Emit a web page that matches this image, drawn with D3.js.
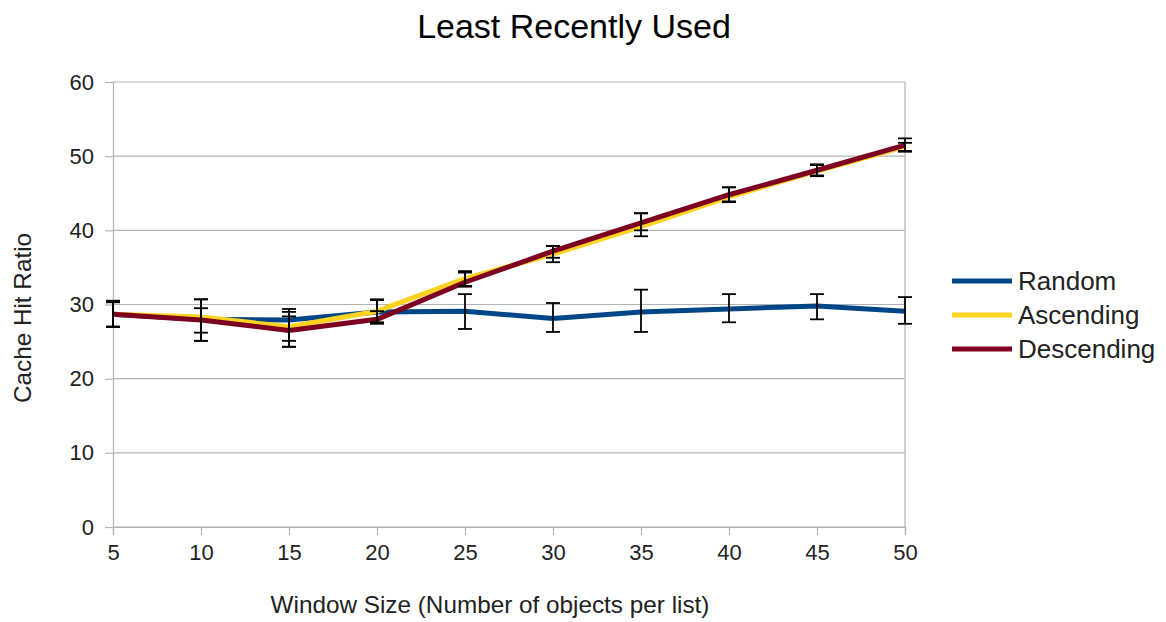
<!DOCTYPE html>
<html>
<head>
<meta charset="utf-8">
<script src="https://cdn.jsdelivr.net/npm/d3@7"></script>
<style>
  html, body { margin: 0; padding: 0; background: #fff; }
  text { font-family: "Liberation Sans", Arial, sans-serif; }
</style>
</head>
<body>
<svg id="chart" width="1166" height="622"></svg>
<script>
const xValues = [5, 10, 15, 20, 25, 30, 35, 40, 45, 50];
const yTicks = [0, 10, 20, 30, 40, 50, 60];
const seriesNames = ["Random", "Ascending", "Descending"];
const seriesColors = ["#004586", "#ffd320", "#7e0021"];

const randomValues = [28.7, 28.0, 27.9, 29.0, 29.1, 28.1, 29.0, 29.4, 29.8, 29.1];
const randomLow    = [27.0, 25.1, 25.1, 27.5, 26.7, 26.3, 26.3, 27.6, 28.0, 27.4];
const randomHigh   = [30.5, 30.7, 29.4, 30.7, 31.4, 30.2, 32.0, 31.4, 31.4, 31.0];

const ascendingValues = [28.7, 28.3, 27.0, 29.1, 33.5, 36.8, 40.5, 44.5, 48.0, 51.3];
const ascendingLow    = [27.0, 25.1, 24.3, 27.6, 32.5, 35.7, 39.2, 43.8, 47.3, 50.6];
const ascendingHigh   = [30.3, 30.7, 29.0, 30.6, 34.5, 37.9, 42.3, 45.8, 48.8, 52.4];

const descendingValues = [28.7, 27.9, 26.5, 28.0, 33.0, 37.2, 41.0, 44.8, 48.1, 51.5];
const descendingLow    = [27.0, 26.2, 24.3, 27.4, 32.4, 36.3, 40.0, 43.9, 47.4, 50.7];
const descendingHigh   = [30.5, 29.5, 28.4, 29.1, 34.3, 37.9, 42.3, 45.8, 48.9, 51.8];

const series = [
  { name: seriesNames[0], color: seriesColors[0], values: randomValues, low: randomLow, high: randomHigh },
  { name: seriesNames[1], color: seriesColors[1], values: ascendingValues, low: ascendingLow, high: ascendingHigh },
  { name: seriesNames[2], color: seriesColors[2], values: descendingValues, low: descendingLow, high: descendingHigh }
];

const svg = d3.select("#chart");
const plotLeft = 113, plotRight = 905, plotTop = 82, plotBottom = 527;

const x = d3.scaleLinear().domain([5, 50]).range([plotLeft, plotRight]);
const y = d3.scaleLinear().domain([0, 60]).range([plotBottom, plotTop]);

// Gridlines
svg.append("g").selectAll("line").data(yTicks).join("line")
  .attr("x1", plotLeft).attr("x2", plotRight)
  .attr("y1", d => y(d)).attr("y2", d => y(d))
  .attr("stroke", "#b3b3b3").attr("stroke-width", 1.2);

// Y axis
const yAxis = svg.append("g").attr("transform", `translate(${plotLeft},0)`)
  .call(d3.axisLeft(y).tickValues(yTicks).tickSize(8).tickPadding(11).tickFormat(d3.format("d")));
yAxis.select(".domain").attr("stroke", "#b3b3b3").attr("stroke-width", 1.2);
yAxis.selectAll(".tick line").attr("stroke", "#b3b3b3").attr("stroke-width", 1.2);
yAxis.selectAll("text").attr("font-size", 22).attr("fill", "#222")
  .attr("font-family", "'Liberation Sans', Arial, sans-serif");

// X axis
const xAxis = svg.append("g").attr("transform", `translate(0,${plotBottom})`)
  .call(d3.axisBottom(x).tickValues(xValues).tickSize(8).tickPadding(9).tickFormat(d3.format("d")));
xAxis.select(".domain").attr("stroke", "#b3b3b3").attr("stroke-width", 1.2);
xAxis.selectAll(".tick line").attr("stroke", "#b3b3b3").attr("stroke-width", 1.2);
xAxis.selectAll("text").attr("font-size", 22).attr("fill", "#222")
  .attr("font-family", "'Liberation Sans', Arial, sans-serif");

// Right border line (vertical at x=50)
svg.append("line").attr("x1", plotRight).attr("x2", plotRight).attr("y1", plotTop).attr("y2", plotBottom)
  .attr("stroke", "#b3b3b3").attr("stroke-width", 1.2);

// Lines
const line = d3.line().x((d, i) => x(xValues[i])).y(d => y(d));
series.forEach(s => {
  svg.append("path").datum(s.values)
    .attr("fill", "none").attr("stroke", s.color).attr("stroke-width", 5)
    .attr("stroke-linejoin", "round").attr("d", line);
});

// Error bars
const capW = 7;
series.forEach(s => {
  const g = svg.append("g").attr("stroke", "#000").attr("stroke-width", 1.8);
  xValues.forEach((xv, i) => {
    const cx = x(xv);
    g.append("line").attr("x1", cx).attr("x2", cx).attr("y1", y(s.low[i])).attr("y2", y(s.high[i]));
    g.append("line").attr("x1", cx - capW).attr("x2", cx + capW).attr("y1", y(s.low[i])).attr("y2", y(s.low[i]));
    g.append("line").attr("x1", cx - capW).attr("x2", cx + capW).attr("y1", y(s.high[i])).attr("y2", y(s.high[i]));
  });
});

// Title
svg.append("text").attr("x", 574).attr("y", 38).attr("text-anchor", "middle")
  .attr("font-size", 34).attr("fill", "#000").text("Least Recently Used");

// Axis titles
svg.append("text").attr("x", 490).attr("y", 613).attr("text-anchor", "middle")
  .attr("font-size", 24.3).attr("fill", "#222").text("Window Size (Number of objects per list)");
svg.append("text").attr("transform", "translate(31,318) rotate(-90)").attr("text-anchor", "middle")
  .attr("font-size", 24.3).attr("fill", "#222").text("Cache Hit Ratio");

// Legend
const legend = svg.append("g");
series.forEach((s, i) => {
  const ly = 281 + i * 34;
  legend.append("line").attr("x1", 952).attr("x2", 1012).attr("y1", ly).attr("y2", ly)
    .attr("stroke", s.color).attr("stroke-width", 5);
  legend.append("text").attr("x", 1018).attr("y", ly + 9).attr("font-size", 26).attr("fill", "#222").text(s.name);
});
</script>
</body>
</html>
